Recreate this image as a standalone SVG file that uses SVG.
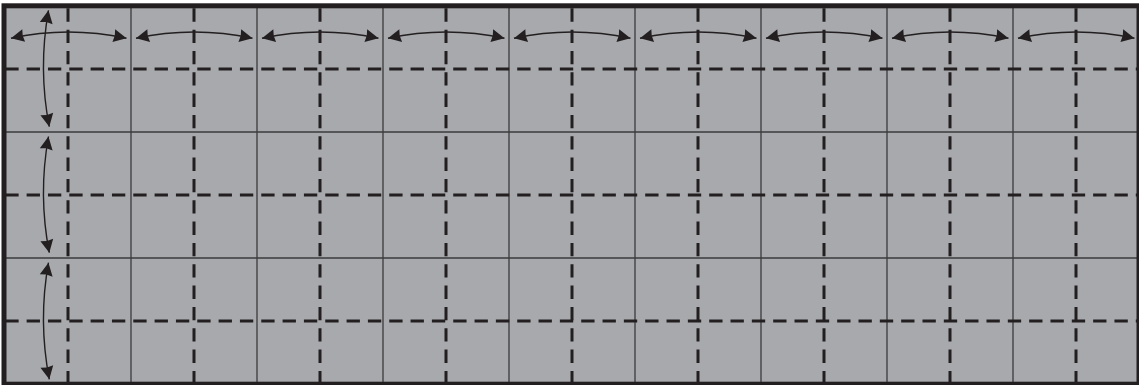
<svg xmlns="http://www.w3.org/2000/svg" width="1139" height="385" viewBox="0 0 1139 385">
  <style>
    .bg { fill: #a7a9ac; }
    .solid { stroke: #3b3b3d; stroke-width: 1.3; fill: none; }
    .dash { stroke: #231f20; stroke-width: 3; fill: none; stroke-dasharray: 13.33 8; }
    .arrow { stroke: #231f20; stroke-width: 1.4; fill: none; marker-start: url(#ah); marker-end: url(#ah); }
    .border { stroke: #231f20; stroke-width: 5; fill: none; }
  </style>
  <defs>
    <marker id="ah" markerUnits="userSpaceOnUse" viewBox="-14 -7 14 14" refX="0" refY="0" markerWidth="14" markerHeight="14" orient="auto-start-reverse">
      <path d="M0,0 L-13,-6.5 L-12,0 L-13,6.5 Z" fill="#231f20"/>
    </marker>
  </defs>
  <rect width="1139" height="385" fill="#ffffff"/>
  <g id="panel">
    <rect class="bg" x="4" y="6" width="1135" height="378"/>
  </g>
  <g id="grid-solid">
    <path class="solid" d="M131,6V384 M257,6V384 M383,6V384 M509,6V384 M635,6V384 M761,6V384 M887,6V384 M1013,6V384 M4,132H1139 M4,258H1139"/>
  </g>
  <g id="grid-dashed">
    <path class="dash" d="M5.3,69H1139 M5.3,195H1139 M5.3,321H1139"/>
    <path class="dash" d="M68,8.3V384 M194,8.3V384 M320,8.3V384 M446,8.3V384 M572,8.3V384 M698,8.3V384 M824,8.3V384 M950,8.3V384 M1076,8.3V384"/>
  </g>
  <g id="connectors">
    <path class="arrow" d="M11,38.3 Q68,25.7 126.5,38.3"/>
    <path class="arrow" d="M136,38.3 Q194,25.7 252.5,38.3"/>
    <path class="arrow" d="M262,38.3 Q320,25.7 378.5,38.3"/>
    <path class="arrow" d="M388,38.3 Q446,25.7 504.5,38.3"/>
    <path class="arrow" d="M514,38.3 Q572,25.7 630.5,38.3"/>
    <path class="arrow" d="M640,38.3 Q698,25.7 756.5,38.3"/>
    <path class="arrow" d="M766,38.3 Q824,25.7 882.5,38.3"/>
    <path class="arrow" d="M892,38.3 Q950,25.7 1008.5,38.3"/>
    <path class="arrow" d="M1018,38.3 Q1076,25.7 1134.5,38.3"/>
    <path class="arrow" d="M48.5,10.3 Q38,69 49.3,126.7"/>
    <path class="arrow" d="M48.5,136.5 Q38,195 49.3,252.7"/>
    <path class="arrow" d="M48.5,262.7 Q38,321 49.3,379.3"/>
  </g>
  <g id="frame">
    <rect class="border" x="4" y="5.8" width="1135" height="378.4"/>
  </g>
</svg>
